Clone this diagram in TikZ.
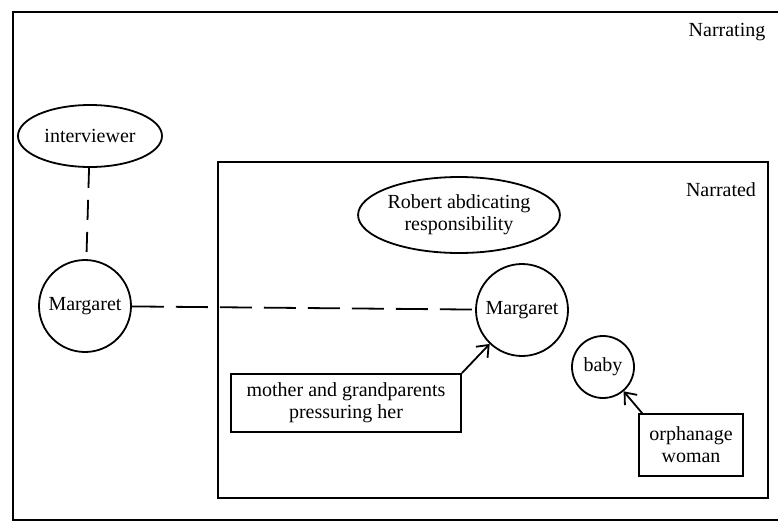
\documentclass[tikz,border=0pt]{standalone}
\usepackage{fontspec}
\setmainfont{Liberation Serif}
\usetikzlibrary{shapes.geometric,arrows.meta}

\begin{document}
\begin{tikzpicture}[x=0.5pt, y=-0.5pt, line width=0.9pt,
    every node/.style={font=\fontsize{10}{11}\selectfont, align=center},
    oval/.style={draw, ellipse, inner sep=0pt},
    person/.style={draw, circle, inner sep=0pt},
    agent/.style={draw, rectangle, inner sep=0pt},
    voice/.style={dash pattern=on 10pt off 6pt},
    longvoice/.style={dash pattern=on 16pt off 6pt},
    push/.style={-{Straight Barb[length=5pt,width=8pt]}}]
    \useasboundingbox (0, 0) rectangle (778, 525) ;
    % frames
    \draw (778, 12) -- (13, 12) -- (13, 520) -- (778, 520) ;
    \draw (218, 162) rectangle (768, 498) ;
    \node (narrating) at (727, 32) {Narrating} ;
    \node (narrated) at (721, 190) {Narrated} ;
    % narrating world
    \node[oval, minimum width=72pt, minimum height=31pt] (interviewer) at (90, 136) {interviewer} ;
    \node[person, minimum size=46pt] (margaretOut) at (85, 306) {Margaret} ;
    % narrated world
    \node[oval, minimum width=89pt, minimum height=38pt] (robert) at (459, 215) {Robert abdicating\\responsibility} ;
    \node[person, minimum size=46pt] (margaretIn) at (522, 310) {Margaret} ;
    \node[person, minimum size=31pt] (baby) at (603, 367) {baby} ;
    \node[agent, minimum width=115pt, minimum height=29pt] (mother) at (346, 403) {mother and grandparents\\pressuring her} ;
    \node[agent, minimum width=52pt, minimum height=31pt] (orphanage) at (691, 445) {orphanage\\woman} ;
    % links
    \draw[voice] (interviewer) -- (margaretOut) ;
    \draw[longvoice] (margaretOut) -- (margaretIn) ;
    \draw[push] (mother.north east) -- (margaretIn) ;
    \draw[push] ([xshift=2pt]orphanage.north west) -- (baby) ;
\end{tikzpicture}
\end{document}
